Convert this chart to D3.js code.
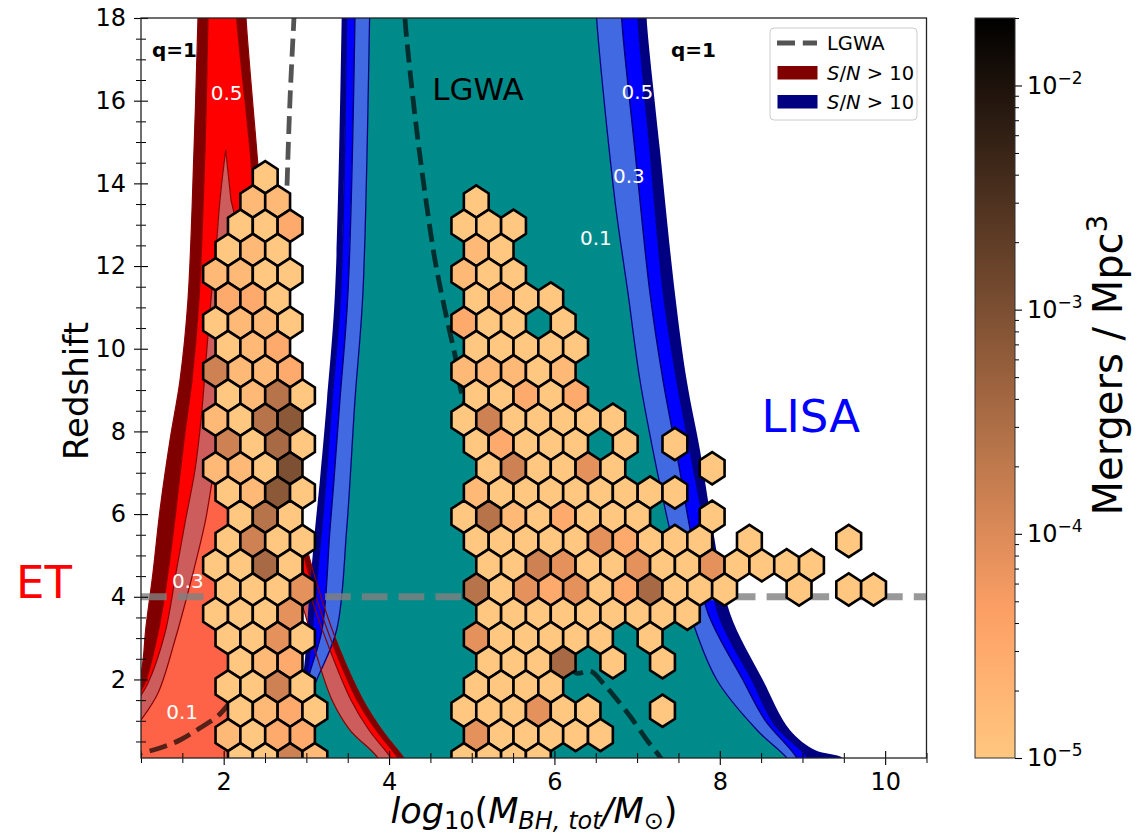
<!DOCTYPE html>
<html>
<head>
<meta charset="utf-8">
<script src="https://cdn.jsdelivr.net/npm/d3@7"></script>
<style>
  body { margin: 0; background: #fff; }
  text { font-family: "DejaVu Sans", sans-serif; }
</style>
</head>
<body>
<svg id="chart" width="1145" height="839"></svg>
<script>
// axis ticks
var xTicks = [2, 4, 6, 8, 10];
var yTicks = [2, 4, 6, 8, 10, 12, 14, 16, 18];
var cbTicks = [1e-5, 1e-4, 1e-3, 1e-2];
var cbRange = [1e-5, 0.02];

// hexbin lattice (data units) and merger densities
var hexX0 = 0.10, hexY0 = 0.07, hexSx = 0.3003, hexDy = 0.5866;
var hexLevels = { a: 1e-5, b: 1.7e-5, c: 3e-5, d: 8e-5, e: 1.4e-4, f: 2.4e-4, g: 3.5e-4, h: 7e-4, i: 9.5e-4 };
// [row, first column, density codes]  ('.' = empty cell)
var hexRows = [
  [24, 8, "a"], [23, 7, "bb"], [22, 7, "aac"], [21, 6, "aba"], [20, 6, "bbaa"],
  [19, 6, "cca"], [18, 6, "abba"], [17, 6, "abc"], [16, 6, "ebbc"], [15, 6, "abfa"],
  [14, 6, "bafh"], [13, 6, "eaga"], [12, 6, "bbai"], [11, 6, "abha"], [10, 7, "afa"],
  [9, 6, "aeaa"], [8, 6, "aaga"], [7, 6, "aaad"], [6, 6, "aaad"], [5, 6, "aada"],
  [4, 7, "abc"], [3, 6, "aaea"], [2, 7, "abca"], [1, 6, "bacc"], [0, 7, "aaeb"],

  [23, 16, "a"], [22, 16, "aaa"], [21, 16, "ba"], [20, 16, "baa"], [19, 16, "abaa"],
  [18, 16, "caa.a"], [17, 16, "aaaaa"], [16, 16, "bbbab"], [15, 16, "aacac"],
  [14, 16, "aeaaaaa"], [13, 16, "acaaa.a.a"], [12, 17, "aeaada...a"],
  [11, 16, "baaaaaaaa"], [10, 16, "afbacaaa..a"], [9, 16, "aaaaadcaaa.a...a"],
  [8, 17, "aaedaadaadaaaa"], [7, 16, "fadcdacgaaa..a.aa"], [6, 17, "aaaaaaaaa"],
  [5, 16, "daaaaa.a"], [4, 17, "aaag.a.a"], [3, 16, "aaaa"], [2, 16, "aaadaa..a"],
  [1, 16, "daaaaa"], [0, 16, "aaaa"]
];

// ET S/N>10 regions (q = 1, 0.5, 0.3, 0.1)
var etQ1 = [[1.69,18.6],[1.689,18.0],[1.641,14.81],[1.568,11.18],[1.472,9.24],[1.351,7.79],[1.230,6.10],[1.145,4.58],[1.060,3.27],[1.0,2.16],[0.867,1.50],[0.6,0.6],[0.5,-0.5],
  [4.4,-0.5],[4.180,0.1],[3.914,0.777],[3.684,1.503],[3.406,2.712],[3.189,3.922],[3.044,4.890],[2.923,5.857],[2.778,7.550],[2.620,9.970],[2.499,12.389],[2.399,14.808],[2.270,18.0],[2.26,18.6]];
var etQ05 = [[1.81,18.6],[1.810,18.0],[1.774,14.81],[1.701,11.18],[1.617,9.24],[1.520,7.79],[1.423,6.10],[1.326,4.575],[1.206,3.124],[1.048,1.914],[0.927,1.503],[0.6,0.5],[0.5,-0.5],
  [4.3,-0.5],[4.108,0.1],[3.842,0.777],[3.612,1.503],[3.346,2.712],[3.128,3.922],[2.983,4.890],[2.862,5.857],[2.705,7.55],[2.536,9.97],[2.415,12.389],[2.318,14.808],[2.157,18.0],[2.15,18.6]];
var etQ03 = [[2.024,14.808],[1.955,13.598],[1.907,12.389],[1.846,11.179],[1.786,9.728],[1.726,8.276],[1.653,7.067],[1.532,5.785],[1.423,4.575],[1.290,3.124],[1.085,1.914],[0.964,1.503],[0.6,0.4],[0.5,-0.5],
  [4.2,-0.5],[4.023,0.1],[3.757,0.777],[3.539,1.503],[3.285,2.712],[3.068,3.922],[2.923,4.890],[2.765,5.857],[2.560,7.550],[2.391,9.244],[2.258,11.179],[2.173,12.800],[2.088,13.598]];
var etQ01 = [[2.052,8.276],[1.931,7.550],[1.774,5.785],[1.629,4.575],[1.411,2.954],[1.206,1.672],[1.0,1.019],[0.807,0.535],[0.5,-0.5],
  [4.0,-0.5],[3.866,0.1],[3.527,0.777],[3.310,1.503],[3.104,2.712],[2.923,3.922],[2.620,4.890],[2.318,6.341]];
var etQ01Fill = [[2.052,8.276],[1.931,7.550],[1.774,5.785],[1.629,4.575],[1.411,2.954],[1.206,1.672],[1.0,1.019],[0.807,0.535],[0.5,-0.5],
  [2.5,-0.5],[2.56,2.712],[2.463,4.89],[2.294,6.583]];

// LISA S/N>10 regions (q = 1, 0.5, 0.3) and inner LGWA region
var lisaQ1 = [[3.43,18.6],[3.427,18],[3.346,11.349],[3.249,8.76],[3.164,6.825],[3.104,5.615],[3.031,3.922],[2.959,2.059],[2.741,-0.19],[2.73,-0.6],
  [9.6,-0.6],[9.573,-0.19],[9.489,0.1],[9.150,0.294],[8.847,0.777],[8.521,1.987],[8.122,3.608],[7.917,5.615],[7.760,7.55],[7.599,9.244],[7.457,11.349],[7.276,14.808],[7.115,18],[7.11,18.6]];
var lisaQ05 = [[3.49,18.6],[3.487,18],[3.415,11.349],[3.310,8.76],[3.237,6.825],[3.185,5.615],[3.104,3.922],[3.007,2.059],[2.778,-0.19],[2.77,-0.6],
  [9.15,-0.6],[9.114,-0.19],[9.065,0.1],[8.666,0.898],[8.388,1.987],[7.977,3.608],[7.820,5.615],[7.638,7.55],[7.478,9.244],[7.316,11.349],[7.155,14.808],[7.010,18],[7.01,18.6]];
var lisaQ03 = [[3.59,18.6],[3.588,18],[3.503,11.349],[3.406,8.76],[3.334,6.825],[3.285,5.615],[3.189,3.196],[3.019,1.987],[2.826,-0.19],[2.82,-0.6],
  [9.0,-0.6],[8.969,-0.19],[8.932,0.1],[8.546,1.019],[8.280,1.987],[7.856,3.608],[7.687,5.132],[7.493,7.308],[7.312,9.244],[7.155,11.349],[6.973,14.808],[6.813,18],[6.81,18.6]];
var lisaQ01 = [[3.77,18.6],[3.765,18],[3.684,11.349],[3.588,8.76],[3.487,5.615],[3.366,3.196],[3.125,1.987],[2.923,1.019],[2.802,-0.19],[2.8,-0.6],
  [8.95,-0.6],[8.908,-0.19],[8.811,0.1],[8.449,0.777],[7.965,1.987],[7.638,3.608],[7.396,5.615],[7.215,7.308],[7.034,9.244],[6.889,11.349],[6.731,13.598],[6.510,18.0],[6.50,18.6]];

// LGWA q=1 curve, two branches
var lgwaLeft = [[0.8,0.15],[1.0,0.221],[1.230,0.342],[1.472,0.535],[1.713,0.826],[1.967,1.189],[2.197,1.866],[2.415,3.196],[2.560,4.890],[2.657,7.55],[2.717,10.453],[2.766,13.937],[2.802,16.017],[2.850,18.0],[2.87,18.8]];
var lgwaRight = [[4.18,18.6],[4.192,18.0],[4.265,16.50],[4.349,15.05],[4.446,13.598],[4.555,12.147],[4.676,10.937],[4.809,9.728],[4.882,8.881],[5.220,7.067],[5.583,5.373],[5.946,3.680],[6.163,2.592],[6.26,2.156],[6.44,2.2],[6.586,1.914],[6.731,1.576],[6.913,1.116],[7.118,0.535],[7.276,0.124],[7.372,-0.19]];

var refLineZ = 4;

var plotLabels = [
  { text: "q=1", x: 1.133, y: 17.06, size: 20, weight: "bold", color: "#000", anchor: "start" },
  { text: "q=1", x: 7.409, y: 17.06, size: 20, weight: "bold", color: "#000", anchor: "start" },
  { text: "0.5", x: 2.036, y: 16.01, size: 20, color: "#fff" },
  { text: "0.5", x: 7.004, y: 16.03, size: 20, color: "#fff" },
  { text: "0.3", x: 6.901, y: 14.01, size: 20, color: "#fff" },
  { text: "0.1", x: 6.502, y: 12.51, size: 20, color: "#fff" },
  { text: "0.3", x: 1.566, y: 4.217, size: 20, color: "#fff" },
  { text: "0.1", x: 1.498, y: 1.051, size: 20, color: "#fff" },
  { text: "LGWA", x: 5.076, y: 16.02, size: 31, color: "#000" },
  { text: "LISA", x: 9.10, y: 7.99, size: 45, color: "#0000ff" },
  { text: "ET", x: -0.173, y: 3.97, size: 45, color: "#ff0000" }
];

var svg = d3.select("#chart");
var x = d3.scaleLinear().domain([1, 10.5]).range([141, 926.5]);
var y = d3.scaleLinear().domain([0.1, 18]).range([758, 18]);

// copper_r colormap
function copperR(t) {
  var v = 1 - Math.max(0, Math.min(1, t));
  return d3.rgb(255 * Math.min(1, v * 1.2353), 255 * 0.7812 * v, 255 * 0.4975 * v).formatHex();
}
var cnorm = d3.scaleLog().domain(cbRange).range([0, 1]).clamp(true);

var defs = svg.append("defs");
defs.append("clipPath").attr("id", "plotClip")
  .append("rect").attr("x", x(1)).attr("y", y(18)).attr("width", x(10.5) - x(1)).attr("height", y(0.1) - y(18));

var line = d3.line().x(function(d) { return x(d[0]); }).y(function(d) { return y(d[1]); })
  .curve(d3.curveCatmullRom.alpha(0.5));
function closed(pts) { return line(pts) + "Z"; }

var plot = svg.append("g").attr("clip-path", "url(#plotClip)");

// LGWA / innermost region
plot.append("path").attr("d", closed(lisaQ01)).attr("fill", "#008b8b");

// ET bands
plot.append("path").attr("d", closed(etQ1) + closed(etQ05)).attr("fill", "#800000").attr("fill-rule", "evenodd");
plot.append("path").attr("d", closed(etQ05) + closed(etQ03)).attr("fill", "#ff0000").attr("fill-rule", "evenodd");
plot.append("path").attr("d", closed(etQ03) + closed(etQ01)).attr("fill", "#cd5c5c").attr("fill-rule", "evenodd");
plot.append("path").attr("d", closed(etQ01Fill)).attr("fill", "#ff6347");

// LISA bands
plot.append("path").attr("d", closed(lisaQ1) + closed(lisaQ05)).attr("fill", "#000080").attr("fill-rule", "evenodd");
plot.append("path").attr("d", closed(lisaQ05) + closed(lisaQ03)).attr("fill", "#0000ff").attr("fill-rule", "evenodd")
  .attr("stroke", "#000080").attr("stroke-width", 1.3);
plot.append("path").attr("d", closed(lisaQ03) + closed(lisaQ01)).attr("fill", "#4169e1").attr("fill-rule", "evenodd")
  .attr("stroke", "#000080").attr("stroke-width", 1.3);

// ET edges
[etQ1, etQ05, etQ03, etQ01].forEach(function(c) {
  plot.append("path").attr("d", closed(c)).attr("fill", "none").attr("stroke", "#8b0000").attr("stroke-width", 1.2);
});

// LGWA dashed curve
[lgwaLeft, lgwaRight].forEach(function(c) {
  plot.append("path").attr("d", line(c)).attr("fill", "none").attr("stroke", "#000")
    .attr("stroke-opacity", 0.67).attr("stroke-width", 4.8).attr("stroke-dasharray", "18,7.8");
});

// z = 4 reference line
plot.append("line").attr("x1", x(1)).attr("x2", x(10.5)).attr("y1", y(refLineZ)).attr("y2", y(refLineZ))
  .attr("stroke", "#808080").attr("stroke-opacity", 0.8).attr("stroke-width", 6.9).attr("stroke-dasharray", "25.7,11.1");

// hexbin cells
var hexCells = [];
hexRows.forEach(function(r) {
  r[2].split("").forEach(function(c, k) {
    if (c === ".") return;
    var col = r[1] + k;
    hexCells.push({ x: hexX0 + (col + (r[0] % 2) * 0.5) * hexSx, y: hexY0 + r[0] * hexDy, v: hexLevels[c] });
  });
});
var hexSy = 2 * hexDy;
var hexCorners = [[0.5, -1 / 6], [0.5, 1 / 6], [0, 1 / 3], [-0.5, 1 / 6], [-0.5, -1 / 6], [0, -1 / 3]];
plot.selectAll("path.hex").data(hexCells).enter().append("path").attr("class", "hex")
  .attr("d", function(d) {
    return "M" + hexCorners.map(function(o) { return x(d.x + o[0] * hexSx) + "," + y(d.y + o[1] * hexSy); }).join("L") + "Z";
  })
  .attr("fill", function(d) { return copperR(cnorm(d.v)); })
  .attr("stroke", "#000").attr("stroke-width", 2.6).attr("stroke-linejoin", "miter");

// labels
svg.selectAll("text.lbl").data(plotLabels).enter().append("text").attr("class", "lbl")
  .attr("x", function(d) { return x(d.x); }).attr("y", function(d) { return y(d.y); })
  .attr("text-anchor", function(d) { return d.anchor || "middle"; })
  .attr("font-size", function(d) { return d.size; })
  .attr("font-weight", function(d) { return d.weight || "normal"; })
  .attr("fill", function(d) { return d.color; })
  .text(function(d) { return d.text; });

// axes
var xMinor = d3.range(1, 10.51, 0.5).filter(function(v) { return xTicks.indexOf(v) < 0; });
var yMinor = d3.range(0.5, 18.01, 0.5).filter(function(v) { return yTicks.indexOf(v) < 0; });

var gx = svg.append("g").attr("transform", "translate(0," + y(0.1) + ")")
  .call(d3.axisBottom(x).tickValues(xTicks).tickSize(7).tickPadding(8).tickFormat(d3.format("d")));
gx.select(".domain").remove();
gx.selectAll(".tick line").attr("y1", -7).attr("stroke-width", 1.1);
gx.selectAll(".tick text").attr("font-size", 24).attr("font-family", "DejaVu Sans");
var gxm = svg.append("g").attr("transform", "translate(0," + y(0.1) + ")")
  .call(d3.axisBottom(x).tickValues(xMinor).tickSize(5).tickFormat(""));
gxm.select(".domain").remove();
gxm.selectAll(".tick line").attr("y1", -5).attr("stroke-width", 1);

var gy = svg.append("g").attr("transform", "translate(" + x(1) + ",0)")
  .call(d3.axisLeft(y).tickValues(yTicks).tickSize(7).tickPadding(8).tickFormat(d3.format("d")));
gy.select(".domain").remove();
gy.selectAll(".tick line").attr("x1", 7).attr("stroke-width", 1.1);
gy.selectAll(".tick text").attr("font-size", 24).attr("font-family", "DejaVu Sans");
var gym = svg.append("g").attr("transform", "translate(" + x(1) + ",0)")
  .call(d3.axisLeft(y).tickValues(yMinor).tickSize(5).tickFormat(""));
gym.select(".domain").remove();
gym.selectAll(".tick line").attr("x1", 5).attr("stroke-width", 1);

svg.append("rect").attr("x", x(1)).attr("y", y(18)).attr("width", x(10.5) - x(1)).attr("height", y(0.1) - y(18))
  .attr("fill", "none").attr("stroke", "#222").attr("stroke-width", 1.3);

// axis titles
var xl = svg.append("text").attr("x", 534).attr("y", 823).attr("text-anchor", "middle").attr("font-size", 35);
xl.append("tspan").attr("font-style", "italic").text("log");
xl.append("tspan").attr("font-size", 24).attr("dy", 6).text("10");
xl.append("tspan").attr("dy", -6).text("(");
xl.append("tspan").attr("font-style", "italic").text("M");
xl.append("tspan").attr("font-style", "italic").attr("font-size", 24).attr("dy", 6).text("BH, tot");
xl.append("tspan").attr("dy", -6).attr("font-style", "italic").text("/M");
xl.append("tspan").attr("font-size", 24).attr("dy", 6).text("\u2299");
xl.append("tspan").attr("dy", -6).text(")");

svg.append("text").attr("transform", "translate(88,391) rotate(-90)").attr("text-anchor", "middle")
  .attr("font-size", 34).text("Redshift");

// legend
var lg = svg.append("g");
lg.append("rect").attr("x", 770).attr("y", 28).attr("width", 147).attr("height", 92).attr("rx", 4)
  .attr("fill", "#fff").attr("fill-opacity", 0.8).attr("stroke", "#cccccc").attr("stroke-width", 1);
lg.append("line").attr("x1", 777).attr("x2", 817).attr("y1", 43).attr("y2", 43).attr("stroke", "#000")
  .attr("stroke-opacity", 0.67).attr("stroke-width", 4.8).attr("stroke-dasharray", "18,7.8");
lg.append("rect").attr("x", 777.5).attr("y", 66).attr("width", 40).attr("height", 13.5).attr("fill", "#800000");
lg.append("rect").attr("x", 777.5).attr("y", 95).attr("width", 40).attr("height", 13.5).attr("fill", "#000080");
lg.append("text").attr("x", 827).attr("y", 50).attr("font-size", 19.5).text("LGWA");
[80, 108.5].forEach(function(by) {
  var t = lg.append("text").attr("x", 827).attr("y", by).attr("font-size", 19.5);
  t.append("tspan").attr("font-style", "italic").text("S");
  t.append("tspan").text("/");
  t.append("tspan").attr("font-style", "italic").text("N");
  t.append("tspan").text(" > 10");
});

// colorbar
var cbX = 975, cbW = 40;
var cbScale = d3.scaleLog().domain(cbRange).range([758, 18]);
var grad = defs.append("linearGradient").attr("id", "cbGrad").attr("x1", 0).attr("y1", 1).attr("x2", 0).attr("y2", 0);
d3.range(0, 1.0001, 0.05).forEach(function(t) {
  grad.append("stop").attr("offset", t).attr("stop-color", copperR(t));
});
svg.append("rect").attr("x", cbX).attr("y", 18).attr("width", cbW).attr("height", 740)
  .attr("fill", "url(#cbGrad)").attr("stroke", "#333").attr("stroke-width", 1);

var cbMinor = [];
[1e-5, 1e-4, 1e-3, 1e-2].forEach(function(dec) {
  for (var k = 2; k <= 9; k++) { if (k * dec <= cbRange[1] + 1e-12) cbMinor.push(k * dec); }
});
var gcm = svg.append("g").attr("transform", "translate(" + (cbX + cbW) + ",0)")
  .call(d3.axisRight(cbScale).tickValues(cbMinor).tickSize(4).tickFormat(""));
gcm.select(".domain").remove();
var gc = svg.append("g").attr("transform", "translate(" + (cbX + cbW) + ",0)")
  .call(d3.axisRight(cbScale).tickValues(cbTicks).tickSize(7).tickPadding(5).tickFormat(""));
gc.select(".domain").remove();
gc.selectAll(".tick line").attr("stroke-width", 1.1);
gc.selectAll(".tick text").attr("font-size", 24).attr("font-family", "DejaVu Sans").each(function(d) {
  var t = d3.select(this);
  t.append("tspan").text("10");
  t.append("tspan").attr("font-size", 17).attr("dy", -10).text("\u2212" + Math.round(-Math.log10(d)));
});

var cl = svg.append("text").attr("transform", "translate(1122,365) rotate(-90)").attr("text-anchor", "middle")
  .attr("font-size", 40);
cl.append("tspan").text("Mergers / Mpc");
cl.append("tspan").attr("font-size", 28).attr("dy", -15).text("3");
</script>
</body>
</html>
